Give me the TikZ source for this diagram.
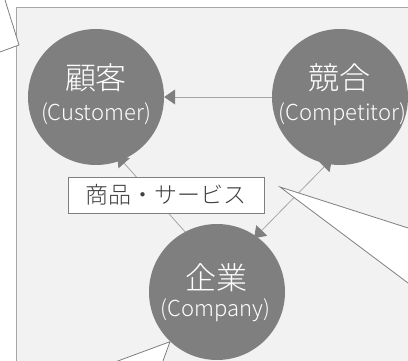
\documentclass[tikz,border=0pt]{standalone}
\usepackage{fontspec}
\newfontfamily\jp{Noto Sans CJK JP}[UprightFont={* Light}]
\usetikzlibrary{arrows.meta}
\definecolor{bgc}{HTML}{F2F2F2}
\definecolor{bdc}{HTML}{A6A6A6}
\definecolor{circc}{HTML}{7F7F7F}
\definecolor{lnc}{HTML}{A6A6A6}
\definecolor{txtc}{HTML}{404040}
\definecolor{clc}{HTML}{7F7F7F}
\begin{document}
\begin{tikzpicture}[x=1pt,y=-1pt,
  circnode/.style={circle, fill=circc, minimum size=136pt, inner sep=0pt},
  jpbig/.style={font=\jp\fontsize{31}{34}\selectfont, text=white, inner sep=0pt},
  entext/.style={font=\jp\fontsize{22}{25}\selectfont, text=white, inner sep=0pt},
  conn/.style={draw=lnc, line width=0.8pt, -{Triangle[length=11pt,width=15pt,color=circc]}},
  conn2/.style={draw=lnc, line width=0.8pt, {Triangle[length=11pt,width=15pt,color=circc]}-{Triangle[length=11pt,width=15pt,color=circc]}},
  lblbox/.style={draw=clc, line width=0.8pt, fill=white, minimum width=196pt, minimum height=36pt, inner sep=0pt, font=\jp\fontsize{23}{26}\selectfont, text=txtc},
  callout/.style={draw=clc, line width=0.8pt, fill=white}
]
\useasboundingbox (0,0) rectangle (408,361);
\clip (0,0) rectangle (408,361);
\filldraw[fill=bgc, draw=bdc, line width=1pt] (16.5,7.5) rectangle (430,380);

\node[circnode] (cust) at (96,97) {};
\node[circnode] (comp) at (340,97) {};
\node[circnode] (corp) at (217,292) {};

\node[jpbig] (custjp) at (96,78) {顧客};
\node[entext] (custen) at (96,114) {(Customer)};
\node[jpbig] (compjp) at (339.5,78) {競合};
\node[entext] (compen) at (342.5,114) {(Competitor)};
\node[jpbig] (corpjp) at (216.5,278) {企業};
\node[entext] (corpen) at (215.5,310) {(Company)};

\draw[conn] (comp.180) -- (cust.0);
\draw[conn, shorten >=-7pt] (corp.118.7) -- (cust.-68);
\draw[conn2, shorten <=-7pt, shorten >=-3pt] (comp.-101) -- (corp.55);

\node[lblbox] (lbl) at (166,195) {商品・サービス};

\filldraw[callout] (4.4,-2) -- (19,45) -- (-2,52.7) -- (-2,-2) -- cycle;
\filldraw[callout] (420,231.8) -- (280,187) -- (420,292) -- cycle;
\filldraw[callout] (107,365) -- (170,341.7) -- (161.5,365) -- cycle;
\end{tikzpicture}
\end{document}
